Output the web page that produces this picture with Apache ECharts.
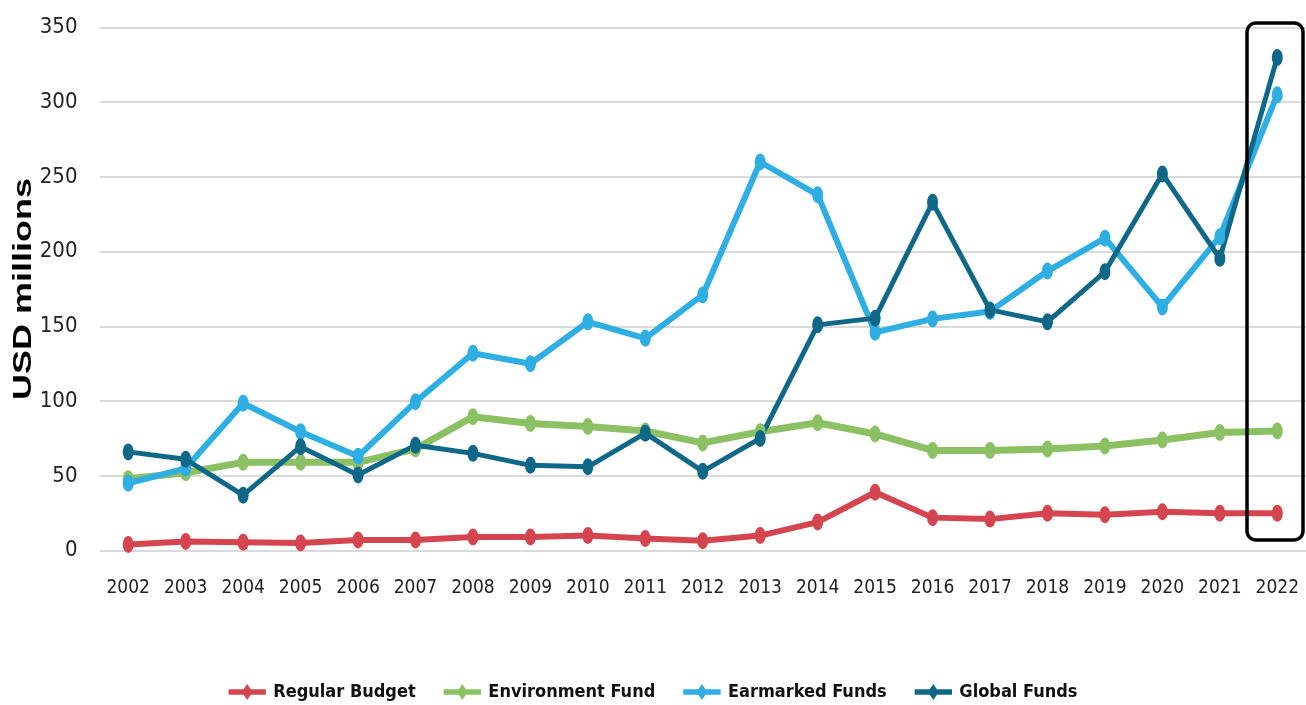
<!DOCTYPE html>
<html>
<head>
<meta charset="utf-8">
<title>Funding 2002-2022</title>
<script src="https://cdn.jsdelivr.net/npm/echarts@6/dist/echarts.min.js"></script>
<style>
  html, body { margin: 0; padding: 0; background: #fff; }
  #main { width: 1306px; height: 705px; }
</style>
</head>
<body>
<div id="main"></div>
<script>
// data (USD millions)
var years = ['2002', '2003', '2004', '2005', '2006', '2007', '2008', '2009', '2010', '2011', '2012',
             '2013', '2014', '2015', '2016', '2017', '2018', '2019', '2020', '2021', '2022'];
var seriesNames = ['Regular Budget', 'Environment Fund', 'Earmarked Funds', 'Global Funds'];
var regularBudget   = [4, 6, 5.5, 5, 7, 7, 9, 9, 10, 8, 6.5, 10, 19, 39, 22, 21, 25, 24, 26, 25, 25];
var environmentFund = [48, 52, 59, 59, 59, 68, 89.5, 85, 83, 80, 72, 79.5, 85.5, 78, 67, 67, 68, 70, 74, 79, 80];
var earmarkedFunds  = [45, 55, 98.5, 79.5, 63, 99.5, 132, 125, 153, 142, 171, 260, 238, 146, 155, 160, 187, 209, 163, 210, 305];
var globalFunds     = [66, 61, 37, 69.5, 50.5, 70.5, 65, 57, 56, 78.5, 53, 75, 151, 155.5, 233, 161, 153, 186.5, 252, 195.5, 330];
var yTicks = [0, 350, 50];   // min, max, interval

var colors = ['#d5454f', '#8cc163', '#2eaee2', '#0f6888'];
var lineWidths = [6, 7, 6, 5];
var narrow = '"Liberation Sans Narrow", "DejaVu Sans Condensed", sans-serif';
var dot = 'path://M5,0 A5,8 0 1,1 5,16 A5,8 0 1,1 5,0 Z';

var myChart = echarts.init(document.getElementById('main'));

var allData = [regularBudget, environmentFund, earmarkedFunds, globalFunds];
var series = [];
for (var i = 0; i < seriesNames.length; i++) {
	series.push({
		name: seriesNames[i],
		type: 'line',
		data: allData[i],
		symbol: dot,
		symbolSize: [11, 17],
		showAllSymbol: true,
		lineStyle: { color: colors[i], width: lineWidths[i] },
		itemStyle: { color: colors[i] },
		emphasis: { disabled: true }
	});
}

var option = {
	animation: false,
	backgroundColor: '#fff',
	grid: {
		left: 99.5,
		right: 0,
		top: 27.5,
		bottom: 154.5
	},
	legend: {
		data: seriesNames,
		left: 'center',
		top: 678,
		itemWidth: 42,
		itemHeight: 16,
		itemGap: 28,
		icon: 'path://M0,6 L17,6 L21,0 L25,6 L42,6 L42,12 L25,12 L21,18 L17,12 L0,12 Z',
		textStyle: {
			fontFamily: narrow,
			fontWeight: 'bold',
			fontSize: 18,
			color: '#111'
		},
		itemStyle: { borderWidth: 0 }
	},
	xAxis: {
		type: 'category',
		data: years,
		boundaryGap: true,
		axisLine: { show: false },
		axisTick: { show: false },
		axisLabel: {
			margin: 28,
			fontFamily: narrow,
			fontSize: 19,
			color: '#222',
			interval: 0
		}
	},
	yAxis: {
		type: 'value',
		min: yTicks[0],
		max: yTicks[1],
		interval: yTicks[2],
		axisLine: { show: false },
		axisTick: { show: false },
		axisLabel: {
			margin: 22,
			fontFamily: narrow,
			fontSize: 22,
			color: '#222'
		},
		splitLine: { lineStyle: { color: '#dadada', width: 2 } }
	},
	graphic: [
		{
			type: 'text',
			x: 37,
			y: 400,
			rotation: Math.PI / 2,
			scaleY: 0.7,
			style: {
				text: 'USD millions',
				font: 'bold 36px "Liberation Sans", Arial, sans-serif',
				fill: '#000',
				align: 'left',
				verticalAlign: 'bottom'
			},
			z: 10
		},
		{
			type: 'rect',
			shape: { x: 1247, y: 23, width: 56, height: 517, r: 9 },
			style: { fill: 'none', stroke: '#000', lineWidth: 3.5 },
			z: 100
		}
	],
	series: series
};
myChart.setOption(option);
</script>
</body>
</html>
